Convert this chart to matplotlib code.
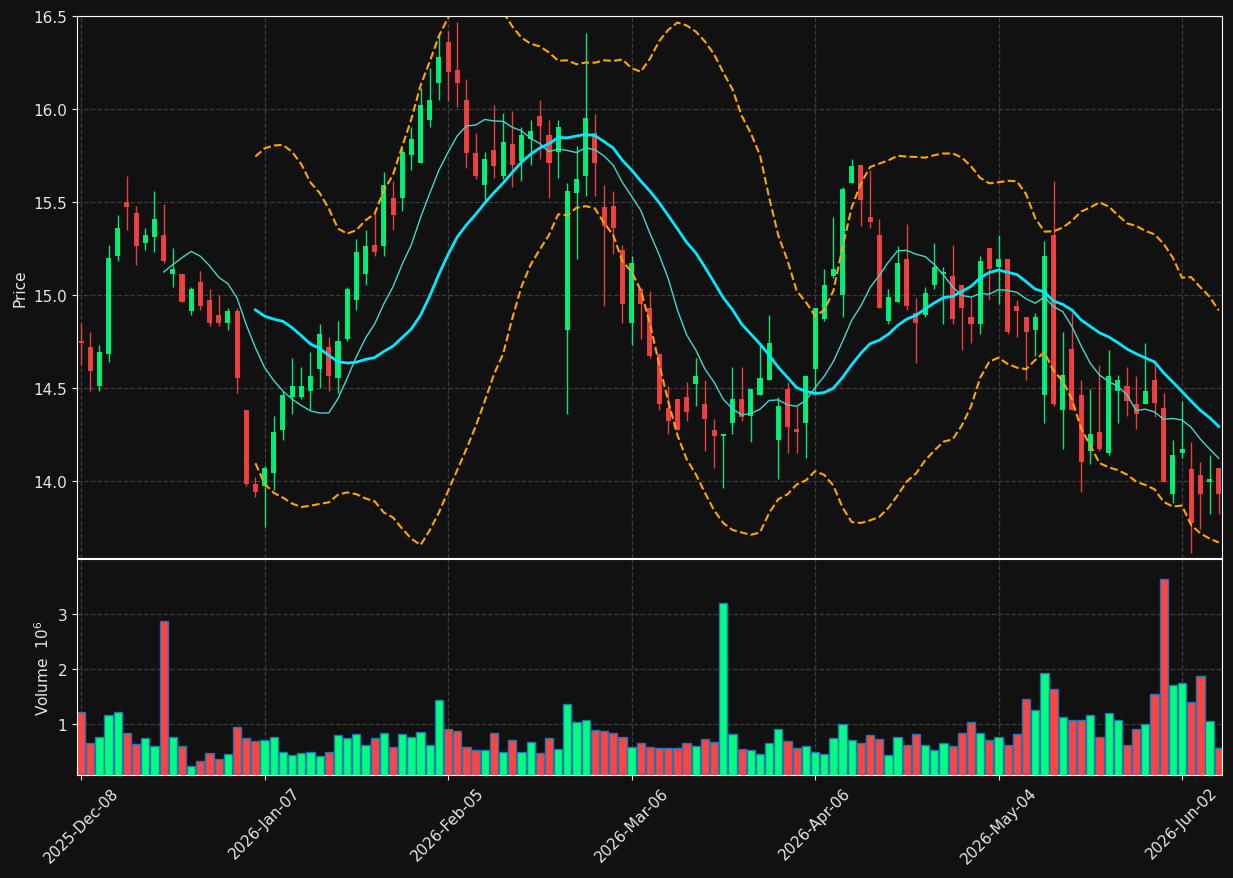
import matplotlib
matplotlib.use('Agg')
import matplotlib.pyplot as plt
import numpy as np
import pandas as pd

# trading days (NYSE calendar)
start_day = '2025-12-08'
holidays = ['2025-12-25', '2026-01-01', '2026-01-19', '2026-02-16', '2026-04-03', '2026-05-25']

opens = [14.75, 14.72, 14.51, 14.68, 15.21, 15.50, 15.44, 15.28, 15.31, 15.32,
         15.11, 15.11, 14.91, 15.07, 14.97, 14.89, 14.85, 14.91, 14.38, 13.98,
         13.97, 14.04, 14.27, 14.45, 14.45, 14.48, 14.60, 14.72, 14.55, 14.76,
         14.97, 15.11, 15.27, 15.26, 15.52, 15.52, 15.75, 15.71, 15.94, 16.14,
         16.36, 16.21, 16.05, 15.76, 15.59, 15.78, 15.64, 15.81, 15.72, 15.84,
         15.96, 15.86, 15.77, 14.81, 15.55, 15.64, 15.87, 15.47, 15.48, 15.24,
         14.85, 15.03, 14.93, 14.68, 14.39, 14.44, 14.45, 14.52, 14.41, 14.27,
         14.24, 14.31, 14.44, 14.35, 14.46, 14.54, 14.22, 14.49, 14.28, 14.31,
         14.60, 14.87, 15.10, 15.00, 15.60, 15.70, 15.42, 15.32, 14.86, 14.96,
         15.19, 14.90, 14.89, 15.05, 15.11, 15.10, 15.05, 14.88, 14.84, 15.25,
         15.15, 15.19, 14.94, 14.88, 14.81, 14.46, 15.32, 14.38, 14.71, 14.46,
         14.16, 14.26, 14.15, 14.48, 14.51, 14.41, 14.41, 14.54, 14.39, 13.93,
         14.15, 14.06, 14.03, 13.99, 14.07]
highs = [14.85, 14.80, 14.73, 15.27, 15.43, 15.64, 15.48, 15.36, 15.56, 15.49,
         15.25, 15.11, 15.04, 15.13, 15.03, 15.00, 14.93, 14.93, 14.38, 14.02,
         14.08, 14.35, 14.48, 14.66, 14.61, 14.69, 14.84, 14.77, 14.86, 15.04,
         15.30, 15.35, 15.44, 15.66, 15.61, 15.79, 15.90, 16.11, 16.22, 16.40,
         16.42, 16.47, 16.16, 15.87, 15.77, 16.02, 15.98, 15.99, 15.90, 15.94,
         16.05, 15.94, 15.94, 15.60, 15.80, 16.41, 15.97, 15.59, 15.56, 15.27,
         15.21, 15.03, 15.02, 14.68, 14.51, 14.44, 14.53, 14.66, 14.54, 14.33,
         14.25, 14.61, 14.61, 14.49, 14.74, 14.89, 14.45, 14.53, 14.40, 14.57,
         14.93, 15.14, 15.42, 15.58, 15.73, 15.70, 15.67, 15.41, 15.03, 15.26,
         15.38, 14.98, 15.04, 15.28, 15.15, 15.27, 15.05, 14.99, 15.21, 15.25,
         15.32, 15.19, 14.97, 14.88, 14.90, 15.29, 15.61, 14.80, 14.90, 14.54,
         14.49, 14.62, 14.70, 14.57, 14.61, 14.56, 14.74, 14.64, 14.47, 14.22,
         14.43, 14.21, 14.10, 14.14, 14.07]
lows = [14.62, 14.48, 14.48, 14.64, 15.18, 15.35, 15.16, 15.24, 15.23, 15.17,
        15.04, 14.96, 14.89, 14.92, 14.83, 14.83, 14.81, 14.47, 13.97, 13.91,
        13.75, 13.95, 14.22, 14.36, 14.44, 14.38, 14.50, 14.48, 14.47, 14.75,
        14.92, 15.05, 15.21, 15.21, 15.35, 15.45, 15.67, 15.71, 15.90, 16.05,
        16.04, 16.01, 15.68, 15.62, 15.51, 15.63, 15.62, 15.58, 15.61, 15.70,
        15.73, 15.52, 15.63, 14.36, 15.19, 15.53, 15.53, 14.94, 15.22, 14.85,
        14.73, 14.76, 14.66, 14.38, 14.25, 14.27, 14.32, 14.40, 14.16, 14.07,
        13.96, 14.25, 14.32, 14.21, 14.46, 14.54, 14.01, 14.15, 14.15, 14.12,
        14.47, 14.86, 15.09, 14.88, 15.60, 15.37, 15.36, 14.93, 14.84, 14.96,
        14.92, 14.63, 14.88, 15.03, 14.84, 14.84, 14.70, 14.74, 14.79, 14.97,
        14.95, 14.79, 14.77, 14.54, 14.67, 14.31, 14.40, 14.17, 14.38, 13.94,
        14.09, 14.16, 14.14, 14.31, 14.35, 14.28, 14.41, 14.34, 13.99, 13.88,
        14.12, 13.61, 13.74, 13.82, 13.82]
closes = [14.74, 14.59, 14.69, 15.20, 15.36, 15.47, 15.26, 15.32, 15.41, 15.18,
          15.14, 14.96, 15.03, 14.94, 14.85, 14.85, 14.91, 14.55, 13.98, 13.94,
          14.07, 14.26, 14.46, 14.51, 14.51, 14.56, 14.79, 14.56, 14.75, 15.03,
          15.23, 15.26, 15.23, 15.59, 15.43, 15.77, 15.84, 16.02, 16.05, 16.28,
          16.20, 16.14, 15.76, 15.64, 15.73, 15.69, 15.82, 15.70, 15.86, 15.88,
          15.91, 15.71, 15.90, 15.56, 15.62, 15.95, 15.71, 15.37, 15.36, 14.95,
          15.17, 14.95, 14.67, 14.41, 14.32, 14.27, 14.37, 14.56, 14.33, 14.24,
          14.25, 14.44, 14.34, 14.49, 14.55, 14.74, 14.40, 14.29, 14.26, 14.56,
          14.93, 15.05, 15.14, 15.57, 15.69, 15.51, 15.39, 14.93, 14.99, 15.17,
          14.94, 14.85, 15.01, 15.15, 15.12, 14.87, 14.93, 14.84, 15.18, 15.14,
          15.19, 14.80, 14.91, 14.80, 14.88, 15.21, 14.41, 14.57, 14.38, 14.10,
          14.25, 14.17, 14.56, 14.54, 14.43, 14.36, 14.48, 14.42, 13.99, 14.14,
          14.17, 13.77, 13.93, 14.01, 13.93]
# volume in millions
volumes = [1.21, 0.65, 0.76, 1.16, 1.21, 0.83, 0.63, 0.74, 0.60, 2.87,
           0.76, 0.60, 0.24, 0.33, 0.47, 0.36, 0.45, 0.94, 0.74, 0.69,
           0.71, 0.76, 0.49, 0.43, 0.47, 0.49, 0.42, 0.49, 0.80, 0.74,
           0.81, 0.61, 0.74, 0.83, 0.58, 0.81, 0.76, 0.85, 0.61, 1.43,
           0.90, 0.87, 0.58, 0.52, 0.52, 0.83, 0.49, 0.71, 0.49, 0.67,
           0.47, 0.74, 0.54, 1.36, 1.03, 1.07, 0.89, 0.87, 0.83, 0.76,
           0.58, 0.65, 0.58, 0.56, 0.56, 0.56, 0.65, 0.60, 0.72, 0.67,
           3.20, 0.81, 0.54, 0.52, 0.45, 0.65, 0.90, 0.69, 0.56, 0.60,
           0.49, 0.45, 0.74, 0.99, 0.71, 0.65, 0.80, 0.72, 0.43, 0.76,
           0.61, 0.81, 0.61, 0.52, 0.65, 0.60, 0.83, 1.03, 0.83, 0.71,
           0.76, 0.61, 0.81, 1.45, 1.25, 1.92, 1.63, 1.12, 1.07, 1.07,
           1.16, 0.76, 1.19, 1.07, 0.61, 0.90, 0.99, 1.54, 3.63, 1.70,
           1.75, 1.39, 1.86, 1.05, 0.56]

bg = '#111111'
txt = '#e6e6e6'
up_col = '#00ff80'
down_col = '#ff4444'

dates = pd.bdate_range(start_day, periods=len(closes), freq='C', holidays=holidays)
o = np.array(opens)
h = np.array(highs)
l = np.array(lows)
c = np.array(closes)
v = np.array(volumes)
x = np.arange(len(c))
cols = np.where(c >= o, up_col, down_col)

close_s = pd.Series(c)
mav10 = close_s.rolling(10).mean()
mav20 = close_s.rolling(20).mean()
std20 = close_s.rolling(20).std(ddof=0)
upper = mav20 + 2 * std20
lower = mav20 - 2 * std20

fig = plt.figure(figsize=(12.33, 8.79), dpi=100, facecolor=bg)
ax = fig.add_axes([0.0625, 0.3640, 0.9286, 0.6167], facecolor=bg)
axv = fig.add_axes([0.0625, 0.1172, 0.9286, 0.2457], facecolor=bg, sharex=ax)

for a in (ax, axv):
    for s in a.spines.values():
        s.set_color('white')
    a.tick_params(colors=txt, labelsize=11)
    a.grid(True, color='#3c3c3c', linestyle='--', linewidth=0.9)
    a.set_axisbelow(True)

# candles
ax.vlines(x, l, h, colors=cols, linewidth=1, alpha=0.9)
body = np.maximum(np.abs(c - o), 0.004)
ax.bar(x, body, bottom=np.minimum(o, c), width=0.55, color=cols, alpha=0.9, linewidth=0)

ax.plot(x, mav10, color='#40d8cc', linewidth=1)
ax.plot(x, mav20, color='#00eaff', linewidth=2)
ax.plot(x, upper, color='orange', linestyle='--', linewidth=1.5)
ax.plot(x, lower, color='orange', linestyle='--', linewidth=1.5)

ax.set_ylim(13.583, 16.5)
ax.set_yticks([14.0, 14.5, 15.0, 15.5, 16.0, 16.5])
ax.set_yticklabels(['%.1f' % t for t in [14.0, 14.5, 15.0, 15.5, 16.0, 16.5]])
ax.set_ylabel('Price', color=txt, fontsize=11)
ax.tick_params(axis='x', labelbottom=False, length=0)

# volume
axv.bar(x, v, width=0.9, color=cols, edgecolor='#1f77b4', linewidth=1)
axv.set_ylim(0.3 * v.min(), 1.1 * v.max())
axv.set_yticks([1, 2, 3])
axv.set_ylabel('Volume  $10^{6}$', color=txt, fontsize=11)

ticks = list(range(0, len(c), 20))
axv.set_xticks(ticks)
axv.set_xticklabels([dates[i].strftime('%Y-%b-%d') for i in ticks],
                    rotation=45, ha='center')
axv.set_xlim(-0.44, len(c) - 1 + 0.36)

fig.savefig('out.png', dpi=100, facecolor=bg)
